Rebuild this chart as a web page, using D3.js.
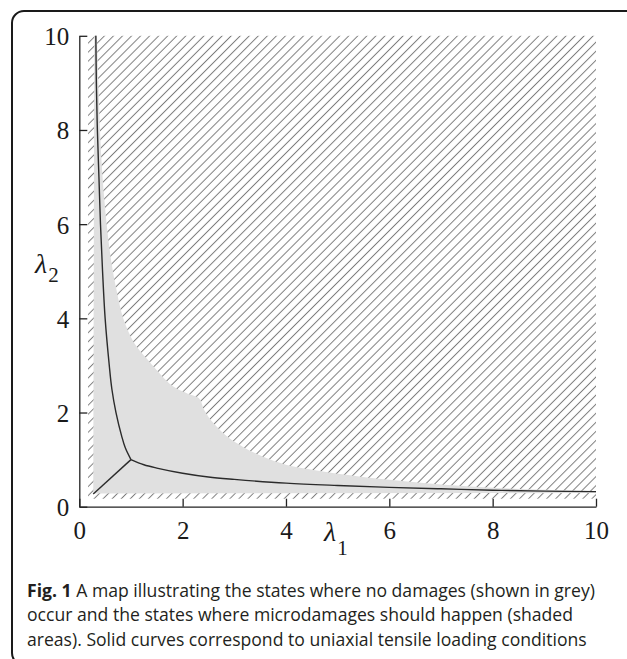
<!DOCTYPE html>
<html>
<head>
<meta charset="utf-8">
<script src="https://cdn.jsdelivr.net/npm/d3@7"></script>
<style>
  body { margin: 0; background: #fff; }
  svg { display: block; }
</style>
</head>
<body>
<div id="chart"></div>
<script>
const W = 627;
const H = 659;

// data
const xTicks = [0, 2, 4, 6, 8, 10];
const yTicks = [0, 2, 4, 6, 8, 10];
const domainMin = 0.17;
const domainMax = 10;

// upper edge of the grey (no damage) region
const safeUpper = [
  [0.34, 10], [0.37, 9], [0.40, 8], [0.45, 7], [0.53, 6], [0.62, 5.2],
  [0.72, 4.6], [0.85, 4.0], [1.05, 3.5], [1.3, 3.15], [1.5, 2.9],
  [1.82, 2.55], [2.1, 2.4], [2.32, 2.3], [2.42, 2.05], [2.6, 1.77],
  [2.85, 1.5], [3.17, 1.27], [3.56, 1.06], [4.0, 0.89], [4.3, 0.82],
  [5, 0.70], [6, 0.57], [7, 0.47], [8, 0.40], [9, 0.36], [10, 0.33]
];
// lower / left edge of the grey region (goes back round to the start)
const safeLower = [[10, 0.29], [0.27, 0.28], [0.29, 10]];

// uniaxial tension curves
const tension1 = [
  [1, 1], [1.25, 0.89], [1.5, 0.82], [2, 0.71], [2.5, 0.63], [3, 0.58],
  [4, 0.5], [5, 0.45], [6, 0.41], [7, 0.38], [8, 0.35], [9, 0.33], [10, 0.32]
];
const tension2 = [
  [1, 1], [0.89, 1.25], [0.82, 1.5], [0.71, 2], [0.63, 2.5], [0.58, 3],
  [0.5, 4], [0.45, 5], [0.41, 6], [0.38, 7], [0.35, 8], [0.33, 9], [0.32, 10]
];
const tension3 = [[1, 1], [0.27, 0.27]];

const captionBold = 'Fig. 1';
const captionLines = [
  ' A map illustrating the states where no damages (shown in grey)',
  'occur and the states where microdamages should happen (shaded',
  'areas). Solid curves correspond to uniaxial tensile loading conditions'
];

const svg = d3.select('#chart').append('svg').attr('width', W).attr('height', H);

// card frame
svg.append('rect')
  .attr('x', 12).attr('y', 11)
  .attr('width', 700).attr('height', 654)
  .attr('rx', 12)
  .attr('fill', 'none')
  .attr('stroke', '#1a1a1a')
  .attr('stroke-width', 2);

const x = d3.scaleLinear().domain([0, 10]).range([79.3, 596]);
const y = d3.scaleLinear().domain([0, 10]).range([506.7, 35.8]);

// hatch pattern
const defs = svg.append('defs');
const pat = defs.append('pattern')
  .attr('id', 'hatch')
  .attr('patternUnits', 'userSpaceOnUse')
  .attr('width', 6.4).attr('height', 6.4)
  .attr('patternTransform', 'rotate(45)');
pat.append('line')
  .attr('x1', 3.2).attr('y1', -1)
  .attr('x2', 3.2).attr('y2', 7.4)
  .attr('stroke', '#7d7d7d')
  .attr('stroke-width', 1);

// hatched (microdamage) area = whole computed domain
svg.append('rect')
  .attr('x', x(domainMin))
  .attr('y', y(domainMax))
  .attr('width', x(domainMax) - x(domainMin))
  .attr('height', y(domainMin) - y(domainMax))
  .attr('fill', 'url(#hatch)');

// grey no-damage area on top
const smooth = d3.line().x(d => x(d[0])).y(d => y(d[1])).curve(d3.curveCatmullRom.alpha(0.5));

const greyPath = smooth(safeUpper) + safeLower.map(d => `L${x(d[0])},${y(d[1])}`).join('') + 'Z';
svg.append('path')
  .attr('d', greyPath)
  .attr('fill', '#e0e0e0');

// solid curves
[tension1, tension2, tension3].forEach(c => {
  svg.append('path')
    .attr('d', smooth(c))
    .attr('fill', 'none')
    .attr('stroke', '#2b2b2b')
    .attr('stroke-width', 1.4);
});

// axes
const xAxis = d3.axisBottom(x)
  .tickValues(xTicks)
  .tickSizeInner(-8)
  .tickSizeOuter(0)
  .tickPadding(15)
  .tickFormat(d3.format('d'));
const yAxis = d3.axisLeft(y)
  .tickValues(yTicks)
  .tickSizeInner(-8)
  .tickSizeOuter(0)
  .tickPadding(10)
  .tickFormat(d3.format('d'));

const gx = svg.append('g').attr('transform', `translate(0,${y(0)})`).call(xAxis);
const gy = svg.append('g').attr('transform', `translate(${x(0)},0)`).call(yAxis);

[gx, gy].forEach(g => {
  g.selectAll('path, line').attr('stroke', '#222').attr('stroke-width', 1.3);
  g.selectAll('text')
    .attr('font-family', '"Liberation Serif", "DejaVu Serif", serif')
    .attr('font-size', 25)
    .attr('fill', '#1a1a1a');
});
gy.selectAll('text').attr('dy', '0.36em');

// axis titles
const titleFont = '"Liberation Serif", "DejaVu Serif", serif';
const t1 = svg.append('text')
  .attr('x', 324).attr('y', 541)
  .attr('font-family', titleFont)
  .attr('fill', '#1a1a1a');
t1.append('tspan').attr('font-style', 'italic').attr('font-size', 28).text('λ');
t1.append('tspan').attr('font-size', 21).attr('dx', 1).attr('dy', 14).text('1');

const t2 = svg.append('text')
  .attr('x', 35).attr('y', 273)
  .attr('font-family', titleFont)
  .attr('fill', '#1a1a1a');
t2.append('tspan').attr('font-style', 'italic').attr('font-size', 28).text('λ');
t2.append('tspan').attr('font-size', 21).attr('dx', 1).attr('dy', 9).text('2');

// caption
const cap = svg.append('g')
  .attr('font-family', '"Open Sans", sans-serif')
  .attr('font-size', 17.6)
  .attr('fill', '#231f20');
captionLines.forEach((t, i) => {
  const txt = cap.append('text').attr('x', 27).attr('y', 597 + i * 24.3);
  if (i === 0) txt.append('tspan').attr('font-weight', 'bold').text(captionBold);
  txt.append('tspan').text(t);
});
</script>
</body>
</html>
